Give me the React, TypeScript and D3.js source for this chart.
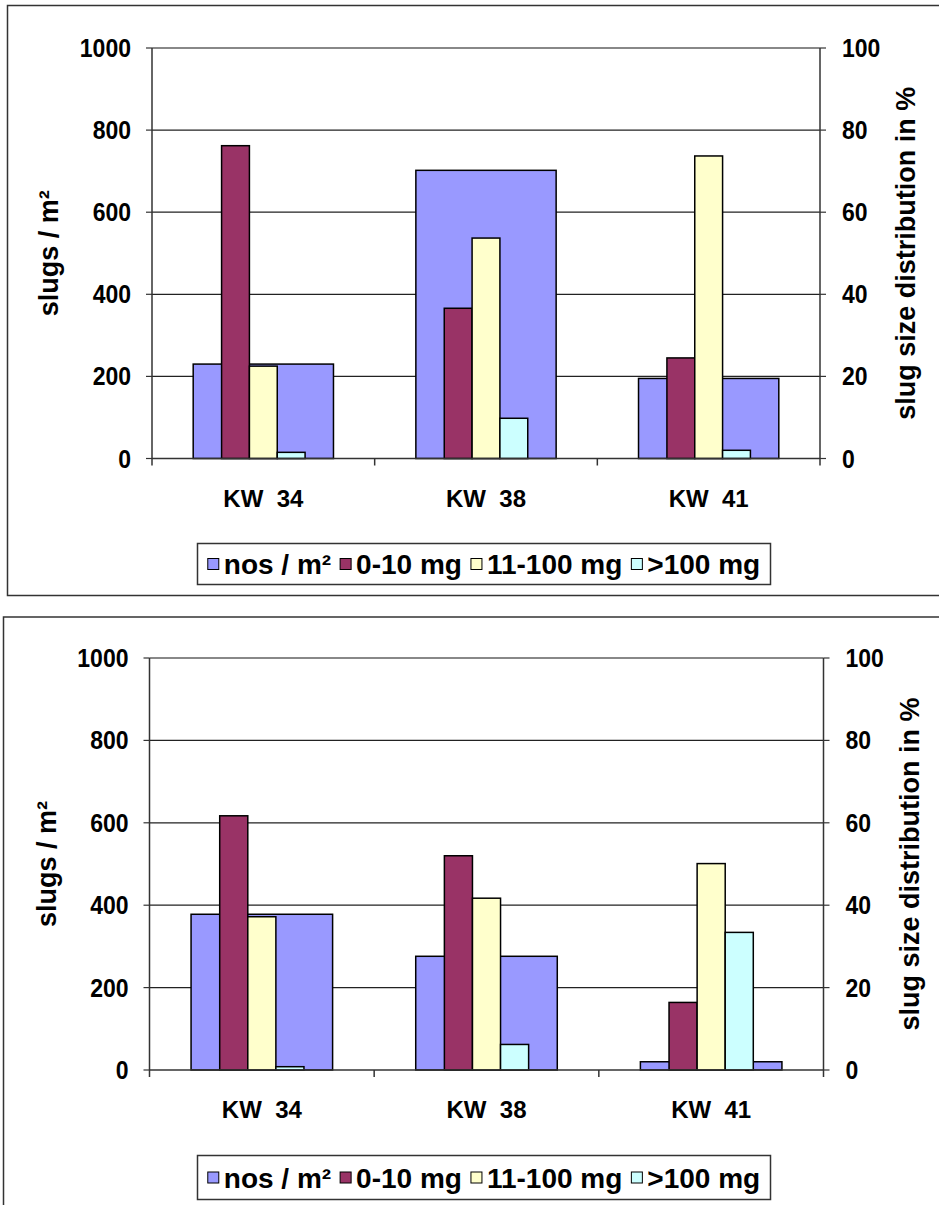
import React from "react";
import * as d3 from "d3";

// categories + series
const categories = ["KW 34", "KW 38", "KW 41"];
const seriesNames = ["nos / m²", "0-10 mg", "11-100 mg", ">100 mg"];
const seriesColors = ["#9999FF", "#993366", "#FFFFCC", "#CCFFFF"];
const leftTicks = [0, 200, 400, 600, 800, 1000];
const rightTicks = [0, 20, 40, 60, 80, 100];

// upper chart
const nosA = [230, 702, 195];
const smallA = [76.2, 36.6, 24.5];
const midA = [22.5, 53.7, 73.7];
const largeA = [1.5, 9.8, 2.0];

// lower chart
const nosB = [378, 276, 20];
const smallB = [61.7, 52.0, 16.4];
const midB = [37.2, 41.7, 50.1];
const largeB = [0.8, 6.2, 33.4];

const FONT = "'Liberation Sans', Arial, sans-serif";

const charts = [
  {
    nos: nosA, pct: [smallA, midA, largeA],
    frame: { x: 7.5, y: 5.5, w: 1000, h: 590 },
    plot: { l: 152, r: 820, t: 48, b: 458.5 },
    legend: { x: 197.5, y: 543.5, w: 573, h: 41 },
  },
  {
    nos: nosB, pct: [smallB, midB, largeB],
    frame: { x: 3.5, y: 617, w: 1000, h: 700 },
    plot: { l: 149.5, r: 823.5, t: 658, b: 1070 },
    legend: { x: 197.5, y: 1155.5, w: 573, h: 44 },
  },
];

const App = () => {
  const ref = React.useRef<SVGSVGElement>(null);

  React.useEffect(() => {
    const svg = d3.select(ref.current);
    svg.selectAll("*").remove();

    charts.forEach((c) => {
      const g = svg.append("g");
      const { l, r, t, b } = c.plot;

      g.append("rect")
        .attr("x", c.frame.x).attr("y", c.frame.y)
        .attr("width", c.frame.w).attr("height", c.frame.h)
        .style("fill", "white").style("stroke", "#333").style("stroke-width", 1.5);

      var yL = d3.scaleLinear().domain([0, 1000]).range([b, t]);
      var yR = d3.scaleLinear().domain([0, 100]).range([b, t]);

      var x0 = d3.scaleBand().domain(categories).range([l, r]).paddingInner(0.37).paddingOuter(0.185);
      var x1 = d3.scaleBand().domain(categories).range([l, r]).paddingInner(0.625).paddingOuter(0.3125);
      var xs = d3.scaleBand<number>().domain([0, 1, 2]).range([0, x1.bandwidth()]);

      // gridlines
      g.selectAll("grid")
        .data(leftTicks.slice(1)).enter()
        .append("line")
        .attr("x1", l).attr("x2", r)
        .attr("y1", (d) => yL(d)).attr("y2", (d) => yL(d))
        .style("stroke", (d) => (d === 1000 ? "#888" : "#222"))
        .style("stroke-width", (d) => (d === 1000 ? 2 : 1.2));

      // primary bars
      g.selectAll("nos")
        .data(c.nos).enter()
        .append("rect")
        .attr("x", (d, i) => x0(categories[i])!)
        .attr("y", (d) => yL(d))
        .attr("width", x0.bandwidth())
        .attr("height", (d) => yL(0) - yL(d))
        .style("fill", seriesColors[0]).style("stroke", "#000").style("stroke-width", 1.5);

      // secondary bars
      c.pct.forEach((vals, s) => {
        g.selectAll("pct" + s)
          .data(vals).enter()
          .append("rect")
          .attr("x", (d, i) => x1(categories[i])! + xs(s)!)
          .attr("y", (d) => yR(d))
          .attr("width", xs.bandwidth())
          .attr("height", (d) => yR(0) - yR(d))
          .style("fill", seriesColors[s + 1]).style("stroke", "#000").style("stroke-width", 1.5);
      });

      // axes lines
      g.append("line").attr("x1", l).attr("x2", l).attr("y1", t).attr("y2", b + 7)
        .style("stroke", "#333").style("stroke-width", 1.5);
      g.append("line").attr("x1", r).attr("x2", r).attr("y1", t).attr("y2", b + 7)
        .style("stroke", "#333").style("stroke-width", 1.5);
      g.append("line").attr("x1", l).attr("x2", r).attr("y1", b).attr("y2", b)
        .style("stroke", "#333").style("stroke-width", 1.5);

      // category ticks
      var step = x0.step();
      [1, 2].forEach((k) => {
        g.append("line").attr("x1", l + k * step).attr("x2", l + k * step)
          .attr("y1", b).attr("y2", b + 7).style("stroke", "#333").style("stroke-width", 1.5);
      });

      // left ticks + labels
      leftTicks.forEach((v) => {
        g.append("line").attr("x1", l - 6).attr("x2", l).attr("y1", yL(v)).attr("y2", yL(v))
          .style("stroke", "#333").style("stroke-width", 1.2);
        g.append("text")
          .attr("transform", `translate(${l - 21},${yL(v) + 9}) scale(0.92,1)`)
          .attr("text-anchor", "end")
          .style("font-family", FONT).style("font-weight", "bold").style("font-size", "25px")
          .text(v);
      });
      rightTicks.forEach((v) => {
        g.append("line").attr("x1", r).attr("x2", r + 6).attr("y1", yR(v)).attr("y2", yR(v))
          .style("stroke", "#333").style("stroke-width", 1.2);
        g.append("text")
          .attr("transform", `translate(${r + 22},${yR(v) + 9}) scale(0.92,1)`)
          .attr("text-anchor", "start")
          .style("font-family", FONT).style("font-weight", "bold").style("font-size", "25px")
          .text(v);
      });

      // category labels
      categories.forEach((cat) => {
        g.append("text")
          .attr("x", x0(cat)! + x0.bandwidth() / 2)
          .attr("y", b + 48)
          .attr("text-anchor", "middle")
          .attr("xml:space", "preserve")
          .style("font-family", FONT).style("font-weight", "bold").style("font-size", "24px")
          .text(cat.replace(" ", "  "));
      });

      // axis titles
      var midY = (t + b) / 2;
      g.append("text")
        .attr("transform", `translate(${l - 94},${midY}) rotate(-90)`)
        .attr("text-anchor", "middle")
        .style("font-family", FONT).style("font-weight", "bold").style("font-size", "27px")
        .text("slugs / m²");
      g.append("text")
        .attr("transform", `translate(${r + 95},${midY}) rotate(-90)`)
        .attr("text-anchor", "middle")
        .style("font-family", FONT).style("font-weight", "bold").style("font-size", "27px")
        .text("slug size distribution in %");

      // legend
      const lg = c.legend;
      g.append("rect")
        .attr("x", lg.x).attr("y", lg.y).attr("width", lg.w).attr("height", lg.h)
        .style("fill", "white").style("stroke", "#333").style("stroke-width", 1.5);
      var items = g.append("g");
      var cx = 0;
      seriesNames.forEach((name, i) => {
        items.append("rect")
          .attr("x", cx).attr("y", -5.5).attr("width", 11).attr("height", 11)
          .style("fill", seriesColors[i]).style("stroke", "#000").style("stroke-width", 1);
        var txt = items.append("text")
          .attr("x", cx + 16).attr("y", 10)
          .style("font-family", FONT).style("font-weight", "bold").style("font-size", "28px")
          .text(name);
        var w = (txt.node() as SVGTextElement).getComputedTextLength();
        cx += 16 + w + 9;
      });
      var total = cx - 9;
      items.attr("transform", `translate(${lg.x + (lg.w - total) / 2},${lg.y + lg.h / 2})`);
    });
  }, []);

  return (
    <div style={{ position: "absolute", left: 0, top: 0 }}>
      <svg ref={ref} width={939} height={1205} style={{ display: "block", background: "white" }}></svg>
    </div>
  );
};

export default App;
